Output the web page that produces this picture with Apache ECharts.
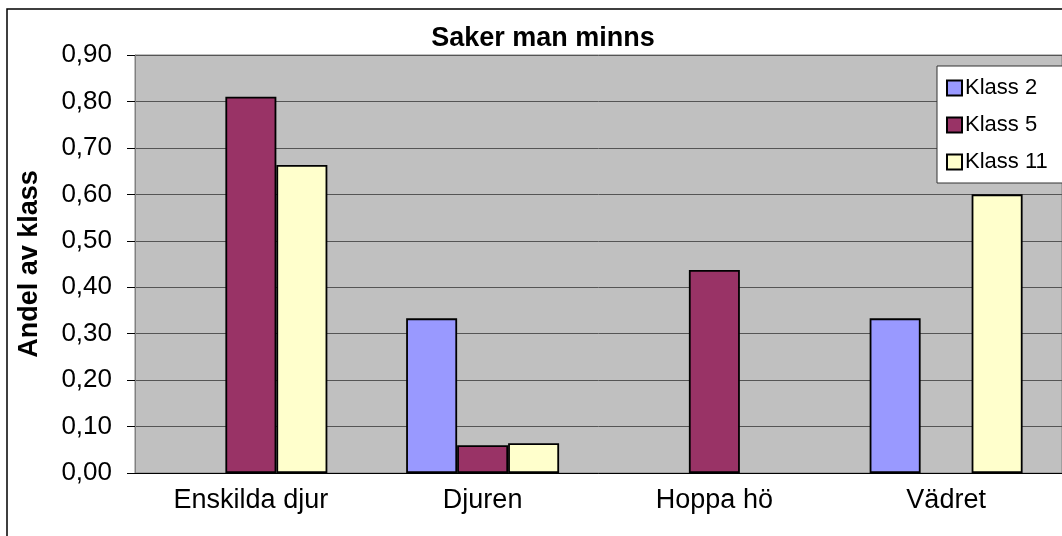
<!DOCTYPE html>
<html>
<head>
<meta charset="utf-8">
<script src="https://cdn.jsdelivr.net/npm/echarts@6/dist/echarts.min.js"></script>
<style>
html, body { margin: 0; padding: 0; background: #fff; }
#main { width: 1062px; height: 536px; }
</style>
</head>
<body>
<div id="main"></div>
<script>
var categories = ['Enskilda djur', 'Djuren', 'Hoppa hö', 'Vädret'];
var klass2 = [null, 0.333, null, 0.333];
var klass5 = [0.81, 0.06, 0.437, null];
var klass11 = [0.663, 0.064, null, 0.6];
var seriesNames = ['Klass 2', 'Klass 5', 'Klass 11'];
var colors = ['#9999FF', '#993366', '#FFFFCC'];

var myChart = echarts.init(document.getElementById('main'));

function makeSeries(name, data, color) {
    return {
        name: name,
        type: 'bar',
        data: data,
        barGap: '0%',
        barCategoryGap: '34%',
        itemStyle: { color: color, borderColor: '#000', borderWidth: 1.8 }
    };
}

var option = {
    animation: false,
    textStyle: { fontFamily: 'Liberation Sans, Arial, sans-serif' },
    title: {
        text: 'Saker man minns',
        left: 538,
        top: 20,
        textAlign: 'center',
        textStyle: { fontSize: 27, fontWeight: 'bold', color: '#000' }
    },
    graphic: [{
        type: 'rect',
        shape: { x: 7, y: 9, width: 1100, height: 600 },
        style: { fill: 'none', stroke: '#000', lineWidth: 1.5 },
        z: 0
    }],
    legend: {
        orient: 'vertical',
        left: 937,
        top: 66,
        padding: [11, 40, 10, 9],
        icon: 'rect',
        itemWidth: 15,
        itemHeight: 15,
        itemGap: 15,
        backgroundColor: '#fff',
        borderColor: '#333',
        borderWidth: 1,
        textStyle: { fontSize: 22, color: '#000', padding: [0, 0, 0, -2] },
        data: seriesNames
    },
    grid: {
        left: 135,
        top: 55,
        width: 942,
        height: 418,
        show: true,
        backgroundColor: '#C0C0C0',
        borderColor: '#808080',
        borderWidth: 1
    },
    xAxis: {
        type: 'category',
        data: categories,
        axisLine: { lineStyle: { color: '#000', width: 1 } },
        axisTick: { length: 8, lineStyle: { color: '#000' } },
        axisLabel: { fontSize: 27, color: '#000', margin: 14 }
    },
    yAxis: {
        type: 'value',
        min: 0,
        max: 0.9,
        interval: 0.1,
        name: 'Andel av klass',
        nameLocation: 'middle',
        nameGap: 92,
        nameTextStyle: { fontSize: 27, fontWeight: 'bold', color: '#000' },
        axisLine: { show: true, lineStyle: { color: '#808080' } },
        axisTick: { show: true, inside: false, length: 8, lineStyle: { color: '#000' } },
        axisLabel: {
            fontSize: 26,
            color: '#000',
            margin: 23,
            formatter: function (v) { return v.toFixed(2).replace('.', ','); }
        },
        splitLine: { lineStyle: { color: '#555', width: 1 } }
    },
    series: [
        makeSeries(seriesNames[0], klass2, colors[0]),
        makeSeries(seriesNames[1], klass5, colors[1]),
        makeSeries(seriesNames[2], klass11, colors[2])
    ]
};
myChart.setOption(option);
</script>
</body>
</html>
